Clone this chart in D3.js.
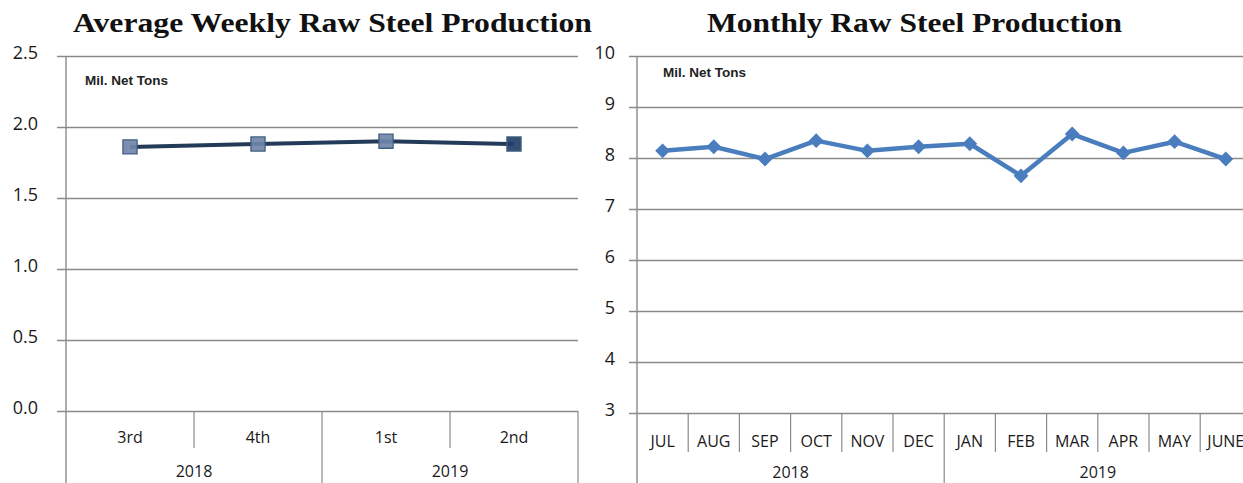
<!DOCTYPE html>
<html>
<head>
<meta charset="utf-8">
<script src="https://cdn.jsdelivr.net/npm/d3@7"></script>
<style>
  html, body { margin: 0; padding: 0; background: #fff; }
  svg { display: block; }
  .title { font-family: "Liberation Serif", "DejaVu Serif", serif; font-weight: bold; font-size: 27px; fill: #111; }
  .unit { font-family: "Liberation Sans", Arial, sans-serif; font-weight: bold; font-size: 13.5px; fill: #222; }
  .tick text { font-family: "Open Sans", "Noto Sans", sans-serif; font-size: 18px; fill: #1a1a1a; }
  .cat { font-family: "Open Sans", "Noto Sans", sans-serif; font-size: 16px; fill: #1a1a1a; }
</style>
</head>
<body>
<div id="chart"></div>
<script>
  const quarterLabels = ["3rd", "4th", "1st", "2nd"];
  const quarterYears = ["2018", "2018", "2019", "2019"];
  const weeklyValues = [1.86, 1.88, 1.9, 1.88];
  const weeklyTicks = [0, 0.5, 1.0, 1.5, 2.0, 2.5];

  const monthLabels = ["JUL", "AUG", "SEP", "OCT", "NOV", "DEC", "JAN", "FEB", "MAR", "APR", "MAY", "JUNE"];
  const monthYears = ["2018", "2018", "2018", "2018", "2018", "2018", "2019", "2019", "2019", "2019", "2019", "2019"];
  const monthlyValues = [8.14, 8.22, 7.98, 8.34, 8.14, 8.22, 8.28, 7.65, 8.47, 8.1, 8.32, 7.98];
  const monthlyTicks = [3, 4, 5, 6, 7, 8, 9, 10];

  const W = 1243;
  const H = 483;
  const gridColor = "#8a8a8a";

  const svg = d3.select("#chart").append("svg").attr("width", W).attr("height", H);

  drawPanel({
    title: "Average Weekly Raw Steel Production",
    titleX: 73, titleW: 519,
    labels: quarterLabels,
    years: quarterYears,
    values: weeklyValues,
    ticks: weeklyTicks,
    format: d3.format(".1f"),
    left: 66, right: 578, top: 56, bottom: 411,
    gridStart: 57, gridEnd: 578, tickPad: 19,
    catY: 437, yearY: 471, shortEnd: 448,
    unitX: 85, unitY: 85,
    marker: "square",
  });

  drawPanel({
    title: "Monthly Raw Steel Production",
    titleX: 707, titleW: 415,
    labels: monthLabels,
    years: monthYears,
    values: monthlyValues,
    ticks: monthlyTicks,
    format: d3.format("d"),
    left: 637, right: 637 + 12 * 51.2, top: 56, bottom: 413,
    gridStart: 629, gridEnd: 1252, tickPad: 14,
    catY: 441, yearY: 472, shortEnd: 452,
    unitX: 663, unitY: 77,
    marker: "diamond",
  });

  function drawPanel(cfg) {
    const g = svg.append("g");
    const x = d3.scaleBand().domain(d3.range(cfg.labels.length)).range([cfg.left, cfg.right]);
    const y = d3.scaleLinear().domain(d3.extent(cfg.ticks)).range([cfg.bottom, cfg.top]);

    g.append("text")
      .attr("class", "title")
      .attr("x", cfg.titleX)
      .attr("y", 32)
      .attr("textLength", cfg.titleW)
      .attr("lengthAdjust", "spacingAndGlyphs")
      .text(cfg.title);

    // gridlines + tick labels
    const axis = g.append("g")
      .attr("transform", `translate(${cfg.gridStart},0)`)
      .call(
        d3.axisLeft(y)
          .tickValues(cfg.ticks)
          .tickFormat(cfg.format)
          .tickSize(-(cfg.gridEnd - cfg.gridStart))
          .tickPadding(cfg.tickPad)
      );
    axis.select(".domain").remove();
    axis.selectAll(".tick line").attr("stroke", gridColor).attr("stroke-width", 1.3);
    axis.selectAll(".tick text").attr("dy", "0.15em");

    // vertical axis line
    g.append("line")
      .attr("x1", cfg.left).attr("x2", cfg.left)
      .attr("y1", cfg.top).attr("y2", H)
      .attr("stroke", gridColor).attr("stroke-width", 1.4);

    g.append("text")
      .attr("class", "unit")
      .attr("x", cfg.unitX)
      .attr("y", cfg.unitY)
      .text("Mil. Net Tons");

    // category dividers
    const idx = d3.range(1, cfg.labels.length + 1);
    g.selectAll(".divider")
      .data(idx)
      .join("line")
      .attr("class", "divider")
      .attr("x1", (i) => x.step() * i + cfg.left)
      .attr("x2", (i) => x.step() * i + cfg.left)
      .attr("y1", cfg.bottom)
      .attr("y2", (i) => (i === cfg.labels.length || cfg.years[i] !== cfg.years[i - 1] ? H : cfg.shortEnd))
      .attr("stroke", gridColor)
      .attr("stroke-width", 1.2);

    g.selectAll(".cat")
      .data(cfg.labels)
      .join("text")
      .attr("class", "cat")
      .attr("x", (d, i) => x(i) + x.bandwidth() / 2)
      .attr("y", cfg.catY)
      .attr("dy", "0.35em")
      .attr("text-anchor", "middle")
      .text((d) => d);

    const yearGroups = d3.groups(cfg.years.map((yr, i) => ({ yr, i })), (d) => d.yr);
    g.selectAll(".year")
      .data(yearGroups)
      .join("text")
      .attr("class", "cat")
      .attr("x", ([, items]) => (x(items[0].i) + x(items[items.length - 1].i) + x.bandwidth()) / 2)
      .attr("y", cfg.yearY)
      .attr("dy", "0.35em")
      .attr("text-anchor", "middle")
      .text(([yr]) => yr);

    const line = d3.line()
      .x((d, i) => x(i) + x.bandwidth() / 2)
      .y((d) => y(d));

    if (cfg.marker === "square") {
      g.append("path")
        .datum(cfg.values)
        .attr("d", line)
        .attr("fill", "none")
        .attr("stroke", "#233a59")
        .attr("stroke-width", 4);

      g.selectAll(".pt")
        .data(cfg.values)
        .join("path")
        .attr("class", "pt")
        .attr("transform", (d, i) => `translate(${x(i) + x.bandwidth() / 2},${y(d)})`)
        .attr("d", d3.symbol(d3.symbolSquare, 200))
        .attr("fill", (d, i) => (i === cfg.values.length - 1 ? "#22406b" : "#7087a9"))
        .attr("fill-opacity", 0.92)
        .attr("stroke", "#44607f")
        .attr("stroke-width", 1.3);
    } else {
      g.append("path")
        .datum(cfg.values)
        .attr("d", line)
        .attr("fill", "none")
        .attr("stroke", "#4a7dbd")
        .attr("stroke-width", 4.5)
        .attr("stroke-linejoin", "round");

      g.selectAll(".pt")
        .data(cfg.values)
        .join("path")
        .attr("class", "pt")
        .attr("transform", (d, i) => `translate(${x(i) + x.bandwidth() / 2},${y(d)}) rotate(45)`)
        .attr("d", d3.symbol(d3.symbolSquare, 110))
        .attr("fill", "#4a7dbd");
    }
  }
</script>
</body>
</html>
